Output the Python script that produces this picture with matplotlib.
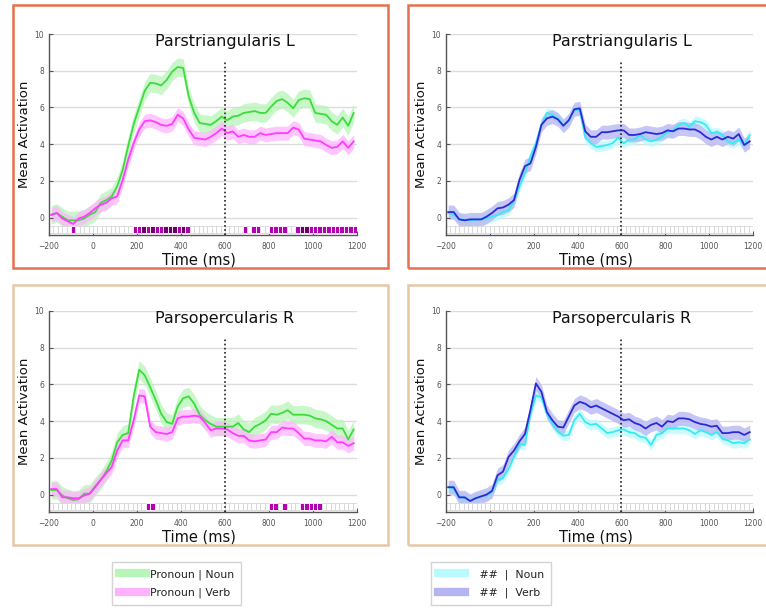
import numpy as np
import matplotlib
matplotlib.use("Agg")
import matplotlib.pyplot as plt
from matplotlib.patches import Rectangle
from matplotlib.lines import Line2D

# time axis of the curves (ms)
t_ms = list(range(-190, 1186, 25))

# Parstriangularis L
tri_pron_noun = [0.15, 0.25, 0.05, -0.15, -0.15, -0.15, -0.05, 0.15, 0.3, 0.8,
                 0.95, 1.15, 1.7, 2.6, 3.9, 5.1, 6.0, 6.9, 7.35, 7.3,
                 7.2, 7.5, 7.95, 8.2, 8.15, 6.6, 5.7, 5.15, 5.1, 5.05,
                 5.25, 5.5, 5.3, 5.5, 5.55, 5.7, 5.75, 5.8, 5.7, 5.7,
                 6.05, 6.35, 6.45, 6.25, 5.95, 6.4, 6.5, 6.45, 5.7, 5.65,
                 5.6, 5.25, 5.05, 5.45, 5.0, 5.7]
tri_pron_verb = [0.15, 0.25, -0.05, -0.2, -0.35, -0.05, 0.05, 0.25, 0.5, 0.7,
                 0.8, 1.05, 1.15, 2.05, 3.15, 4.05, 4.8, 5.25, 5.3, 5.2,
                 5.05, 5.0, 5.1, 5.6, 5.4, 4.8, 4.35, 4.3, 4.25, 4.4,
                 4.6, 4.85, 4.6, 4.7, 4.4, 4.5, 4.4, 4.4, 4.6, 4.5,
                 4.55, 4.6, 4.6, 4.6, 4.9, 4.8, 4.3, 4.25, 4.2, 4.15,
                 3.95, 3.8, 3.85, 4.15, 3.8, 4.15]
tri_hash_noun = [0.25, 0.15, -0.05, -0.15, -0.15, -0.1, -0.1, -0.05, 0.05, 0.15,
                 0.3, 0.4, 0.9, 1.7, 2.4, 3.35, 4.05, 5.05, 5.7, 5.6,
                 5.4, 5.05, 5.3, 5.85, 5.85, 4.35, 4.05, 3.85, 3.9, 3.95,
                 4.05, 4.35, 4.05, 4.25, 4.25, 4.5, 4.25, 4.15, 4.25, 4.4,
                 4.65, 4.75, 5.05, 5.15, 4.95, 5.25, 5.2, 5.05, 4.6, 4.65,
                 4.5, 4.15, 4.05, 4.25, 3.95, 4.5]
tri_hash_verb = [0.3, 0.3, -0.1, -0.15, -0.1, -0.1, -0.1, 0.05, 0.25, 0.5,
                 0.55, 0.7, 0.95, 2.05, 2.8, 2.95, 3.85, 5.05, 5.4, 5.5,
                 5.35, 5.0, 5.3, 5.9, 5.95, 4.7, 4.4, 4.4, 4.65, 4.65,
                 4.7, 4.75, 4.75, 4.5, 4.5, 4.55, 4.65, 4.6, 4.55, 4.6,
                 4.75, 4.7, 4.85, 4.85, 4.8, 4.8, 4.65, 4.4, 4.25, 4.4,
                 4.25, 4.4, 4.3, 4.55, 3.95, 4.15]

# Parsopercularis R
oper_pron_noun = [0.25, 0.25, -0.05, -0.2, -0.3, -0.25, 0.05, 0.05, 0.45, 0.8,
                  1.25, 1.85, 2.85, 3.25, 3.35, 5.35, 6.8, 6.5, 5.85, 5.15,
                  4.4, 3.95, 3.85, 4.8, 5.25, 5.35, 4.95, 4.35, 4.05, 3.85,
                  3.7, 3.7, 3.7, 3.7, 3.9, 3.55, 3.4, 3.7, 3.85, 4.05,
                  4.4, 4.35, 4.45, 4.6, 4.35, 4.35, 4.35, 4.3, 4.15, 4.1,
                  4.0, 3.8, 3.6, 3.6, 3.0, 3.55]
oper_pron_verb = [0.3, 0.3, -0.15, -0.15, -0.2, -0.2, -0.05, 0.05, 0.4, 0.8,
                  1.15, 1.5, 2.4, 2.95, 2.95, 4.05, 5.4, 5.35, 3.7, 3.4,
                  3.35, 3.3, 3.4, 4.15, 4.25, 4.25, 4.3, 4.25, 3.9, 3.5,
                  3.6, 3.6, 3.55, 3.35, 3.2, 3.2, 2.95, 2.9, 2.95, 3.0,
                  3.4, 3.4, 3.65, 3.6, 3.6, 3.35, 3.05, 3.05, 2.95, 2.95,
                  2.9, 3.15, 2.85, 2.85, 2.65, 2.8]
oper_hash_noun = [0.4, 0.3, -0.15, -0.2, -0.35, -0.2, -0.1, -0.05, 0.15, 0.8,
                  0.9, 1.4, 2.05, 2.75, 2.7, 4.4, 5.4, 5.3, 4.4, 3.85,
                  3.45, 3.2, 3.25, 4.05, 4.4, 3.95, 3.8, 3.85, 3.6, 3.35,
                  3.4, 3.5, 3.55, 3.4, 3.35, 3.15, 3.1, 2.7, 3.25, 3.35,
                  3.6, 3.6, 3.6, 3.6, 3.5, 3.3, 3.5, 3.4, 3.25, 3.4,
                  3.05, 2.95, 2.8, 2.85, 2.8, 3.0]
oper_hash_verb = [0.4, 0.4, -0.15, -0.15, -0.35, -0.2, -0.1, 0.0, 0.2, 1.05,
                  1.25, 2.05, 2.4, 2.9, 3.3, 4.6, 6.05, 5.6, 4.5, 4.05,
                  3.7, 3.65, 4.25, 4.85, 5.05, 4.95, 4.75, 4.85, 4.7, 4.55,
                  4.4, 4.25, 4.05, 4.1, 3.9, 3.8, 3.6, 3.8, 3.9, 3.7,
                  4.0, 3.95, 4.15, 4.15, 4.1, 3.95, 3.85, 3.8, 3.7, 3.75,
                  3.35, 3.35, 3.4, 3.4, 3.25, 3.4]

# half-width of the shaded error bands
sem = {'pron_noun': 0.5, 'pron_verb': 0.38, 'hash_noun': 0.28, 'hash_verb': 0.38}

# significance row: 20 ms bins, start time of significant / strongly significant bins
bin_starts = list(range(-200, 1200, 20))
tri_sig = [-100] + list(range(180, 440, 20)) + [680, 720, 740, 800, 820, 840, 860] \
    + list(range(920, 1200, 20))
tri_strong = [220, 260, 320, 340, 360, 400, 940, 960]
oper_sig = [240, 260, 800, 820, 860, 940, 960, 980, 1000, 1020]
oper_strong = []

onset = 600
x_ticks = [-200, 0, 200, 400, 600, 800, 1000, 1200]
y_ticks = [0, 2, 4, 6, 8, 10]

colors = {
    'pron_noun': ('#3ddc3d', '#b8f5b8'),
    'pron_verb': ('#ff3cff', '#ffb3ff'),
    'hash_noun': ('#38eaf5', '#b9fbfd'),
    'hash_verb': ('#2a2ad8', '#b4b4f2'),
}
legend_labels = {
    'pron_noun': 'Pronoun | Noun',
    'pron_verb': 'Pronoun | Verb',
    'hash_noun': '   ##  |  Noun',
    'hash_verb': '   ##  |  Verb',
}

W, H = 766, 608
fig = plt.figure(figsize=(W / 100, H / 100), dpi=100)


def px_rect(x0, y0, x1, y1):
    return [x0 / W, 1 - y1 / H, (x1 - x0) / W, (y1 - y0) / H]


def draw_panel(box, title, series, sig, strong):
    ax = fig.add_axes(px_rect(*box))
    ax.set_xlim(-200, 1200)
    ax.set_ylim(-0.95, 10)
    for y in y_ticks:
        ax.axhline(y, color='#dcdcdc', lw=1, zorder=0)
    for key, vals in series:
        v = np.array(vals)
        line_c, band_c = colors[key]
        ax.fill_between(t_ms, v - sem[key], v + sem[key], color=band_c, alpha=0.75,
                        lw=0, zorder=1)
    for key, vals in series:
        ax.plot(t_ms, vals, color=colors[key][0], lw=1.3, zorder=3)
    # significance squares
    sq_colors, sq_edges = [], []
    for b in bin_starts:
        if b in strong:
            sq_colors.append('#6e006e')
            sq_edges.append('white')
        elif b in sig:
            sq_colors.append('#b400b4')
            sq_edges.append('white')
        else:
            sq_colors.append('white')
            sq_edges.append('#d6d6d6')
    ax.bar(np.array(bin_starts) + 10, 0.36, bottom=-0.83, width=20, color=sq_colors,
           edgecolor=sq_edges, linewidth=0.6, zorder=2)
    ax.vlines(onset, -0.95, 8.45, colors='#222222', linestyles=(0, (1, 1.5)), lw=1.2,
              zorder=4)
    ax.text(600, 9.6, title, ha='center', va='center', fontsize=11.5, color='#111111')
    for s in ['top', 'right']:
        ax.spines[s].set_visible(False)
    for s in ['left', 'bottom']:
        ax.spines[s].set_color('#555555')
        ax.spines[s].set_linewidth(1.0)
    ax.set_xticks(x_ticks)
    ax.set_yticks(y_ticks)
    ax.tick_params(direction='in', length=3, width=0.8, colors='#555555',
                   labelsize=5.5)
    ax.tick_params(axis='x', pad=5)
    ax.set_ylabel('Mean Activation', fontsize=9.5, color='#111111')
    ax.yaxis.set_label_coords(-0.06, 0.5)
    ax.set_xlabel('Time (ms)', fontsize=10.5, color='#111111')
    ax.xaxis.set_label_coords(0.487, -0.085)
    return ax


# panel frames
frame_specs = [
    ((13, 5, 388, 268), '#e5714f'),
    ((408, 5, 772, 268), '#e5714f'),
    ((13, 285, 388, 545), '#e6c7a6'),
    ((408, 285, 772, 545), '#e6c7a6'),
]
for (x0, y0, x1, y1), ec in frame_specs:
    fig.patches.append(Rectangle((x0 / W, 1 - y1 / H), (x1 - x0) / W, (y1 - y0) / H,
                                 transform=fig.transFigure, fill=False,
                                 edgecolor=ec, lw=1.8))

draw_panel((49, 34, 357, 235), 'Parstriangularis L',
           [('pron_noun', tri_pron_noun), ('pron_verb', tri_pron_verb)],
           tri_sig, tri_strong)
draw_panel((446, 34, 753, 235), 'Parstriangularis L',
           [('hash_noun', tri_hash_noun), ('hash_verb', tri_hash_verb)], [], [])
draw_panel((49, 311, 357, 512), 'Parsopercularis R',
           [('pron_noun', oper_pron_noun), ('pron_verb', oper_pron_verb)],
           oper_sig, oper_strong)
draw_panel((446, 311, 753, 512), 'Parsopercularis R',
           [('hash_noun', oper_hash_noun), ('hash_verb', oper_hash_verb)], [], [])

for keys, left in [(['pron_noun', 'pron_verb'], 112), (['hash_noun', 'hash_verb'], 431)]:
    handles = [Line2D([], [], color=colors[k][1], lw=6) for k in keys]
    leg = fig.legend(handles, [legend_labels[k] for k in keys], loc='upper left',
                     bbox_to_anchor=(left / W, 1 - 562 / H), frameon=True,
                     fancybox=False, edgecolor='#c8c8c8', fontsize=7.8,
                     handlelength=2.5, handletextpad=0.35, borderpad=0.65,
                     labelspacing=0.75, borderaxespad=0)
    leg.get_frame().set_linewidth(1.0)
    for txt in leg.get_texts():
        txt.set_color('#222222')

fig.savefig('out.png', dpi=100, facecolor='white')
